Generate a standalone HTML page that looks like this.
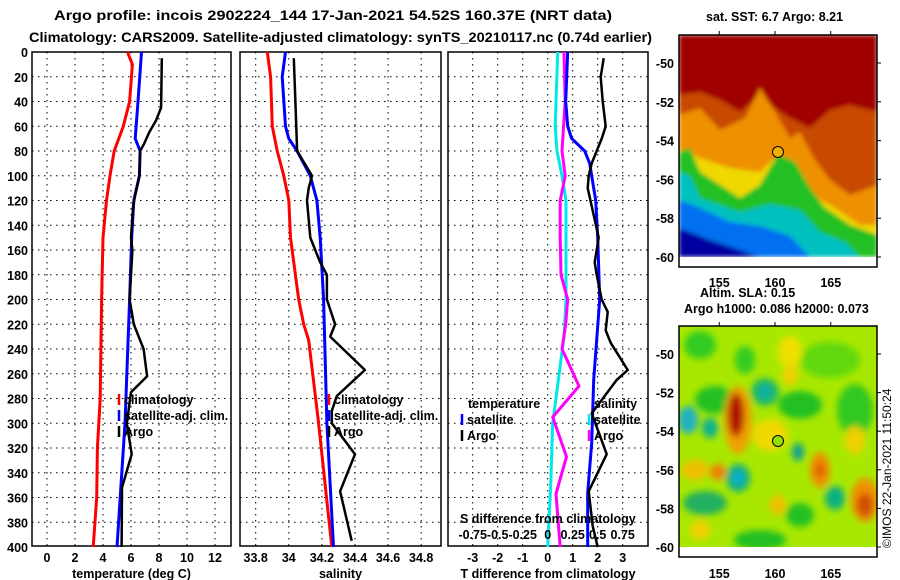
<!DOCTYPE html>
<html><head><meta charset="utf-8"><style>
html,body{margin:0;padding:0;background:#fff;}
svg{display:block;font-family:"Liberation Sans",sans-serif;font-weight:bold;}
</style></head><body>
<svg id="fig" width="900" height="580" viewBox="0 0 900 580" xmlns="http://www.w3.org/2000/svg">
<text x="54" y="20" font-size="14" textLength="558" lengthAdjust="spacingAndGlyphs">Argo profile: incois 2902224_144 17-Jan-2021 54.52S 160.37E (NRT data)</text>
<text x="29" y="42" font-size="14" textLength="623" lengthAdjust="spacingAndGlyphs">Climatology: CARS2009. Satellite-adjusted climatology: synTS_20210117.nc (0.74d earlier)</text>

<g>
<defs><clipPath id="c1"><rect x="679" y="35" width="198" height="222"/></clipPath>
<clipPath id="c2"><rect x="679" y="326" width="198" height="221"/></clipPath>
<filter id="bl"><feGaussianBlur stdDeviation="3.5"/></filter>
<filter id="bl2"><feGaussianBlur stdDeviation="2"/></filter></defs>
<g clip-path="url(#c1)" filter="url(#bl2)">
<rect x="679" y="35" width="198" height="222" fill="#a00000"/>
<polygon fill="#c84a00" points="679,95 700,92 720,100 740,112 760,95 775,108 790,118 810,128 830,110 850,105 877,112 877,257 679,257"/>
<polygon fill="#ee9000" points="679,115 700,108 720,130 745,118 760,88 775,112 790,138 800,132 815,160 830,180 850,195 877,185 877,257 679,257"/>
<polygon fill="#f0d800" points="679,150 700,158 730,168 760,172 775,158 790,168 810,195 830,205 860,225 877,225 877,257 679,257"/>
<polygon fill="#20c020" points="679,152 690,148 700,172 720,185 740,198 760,185 778,154 795,162 810,188 825,208 850,225 877,235 877,257 679,257"/>
<polygon fill="#00c0c0" points="679,172 690,176 700,198 740,212 770,204 800,210 820,232 845,242 860,257 679,257"/>
<polygon fill="#0070f0" points="679,200 700,208 730,222 760,226 790,236 810,257 679,257"/>
<polygon fill="#0000a0" points="679,228 710,240 740,250 760,257 679,257"/>
</g>
<rect x="679" y="35" width="198" height="232" fill="none" stroke="#000" stroke-width="1.5"/>
<circle cx="778" cy="152" r="5.5" fill="#f0b000" stroke="#000"/>
</g>
<text x="706" y="21" font-size="12.5">sat. SST: 6.7 Argo: 8.21</text>

<g>
<g clip-path="url(#c2)">
<rect x="679" y="326" width="198" height="221" fill="#a8e800"/>
<g filter="url(#bl)">
<ellipse cx="700" cy="345" rx="16" ry="14" fill="#30cc20"/>
<ellipse cx="745" cy="360" rx="10" ry="14" fill="#30cc20"/>
<ellipse cx="830" cy="360" rx="30" ry="18" fill="#60d810"/>
<ellipse cx="790" cy="352" rx="12" ry="16" fill="#f0e000"/>
<ellipse cx="790" cy="375" rx="8" ry="10" fill="#f0d000"/>
<ellipse cx="715" cy="400" rx="20" ry="14" fill="#20c020"/>
<ellipse cx="765" cy="392" rx="14" ry="14" fill="#20b860"/>
<ellipse cx="765" cy="392" rx="7" ry="8" fill="#10b0a0"/>
<ellipse cx="688" cy="420" rx="10" ry="14" fill="#20b0c0"/>
<ellipse cx="710" cy="428" rx="8" ry="10" fill="#10b090"/>
<ellipse cx="738" cy="420" rx="14" ry="34" fill="#f0a000"/>
<ellipse cx="736" cy="415" rx="8" ry="22" fill="#b01000"/>
<ellipse cx="770" cy="435" rx="18" ry="16" fill="#f0d800"/>
<ellipse cx="800" cy="405" rx="22" ry="14" fill="#20c020"/>
<ellipse cx="798" cy="452" rx="6" ry="9" fill="#10a090"/>
<ellipse cx="820" cy="470" rx="10" ry="18" fill="#f09000"/>
<ellipse cx="820" cy="470" rx="5" ry="8" fill="#e06000"/>
<ellipse cx="695" cy="470" rx="14" ry="10" fill="#f0c000"/>
<ellipse cx="718" cy="472" rx="8" ry="8" fill="#f08000"/>
<ellipse cx="738" cy="478" rx="12" ry="14" fill="#10b080"/>
<ellipse cx="738" cy="478" rx="6" ry="7" fill="#10b0d0"/>
<ellipse cx="705" cy="503" rx="22" ry="12" fill="#20b060"/>
<ellipse cx="835" cy="498" rx="10" ry="12" fill="#10b080"/>
<ellipse cx="865" cy="500" rx="14" ry="22" fill="#f09000"/>
<ellipse cx="865" cy="505" rx="8" ry="12" fill="#d05000"/>
<ellipse cx="800" cy="515" rx="14" ry="12" fill="#20c020"/>
<ellipse cx="760" cy="540" rx="26" ry="10" fill="#20c020"/>
<ellipse cx="855" cy="410" rx="18" ry="26" fill="#30c820"/>
<ellipse cx="700" cy="530" rx="10" ry="10" fill="#f0d000"/>
<ellipse cx="778" cy="505" rx="8" ry="10" fill="#f0c000"/>
<ellipse cx="855" cy="440" rx="10" ry="14" fill="#f0d000"/>
</g></g>
<rect x="679" y="326" width="198" height="231" fill="none" stroke="#000" stroke-width="1.5"/>
<circle cx="778" cy="441" r="5.5" fill="#90e000" stroke="#000"/>
</g>
<text x="700" y="297" font-size="12.5">Altim. SLA: 0.15</text>
<text x="684" y="313" font-size="12.5">Argo h1000: 0.086 h2000: 0.073</text>
<text transform="translate(891,548) rotate(-90)" font-size="12" font-weight="normal">©IMOS 22-Jan-2021 11:50:24</text>
<g id="axes"></g>
</svg>
<script>
// ---- data ----
const tClimDepth=[0,10,40,60,80,100,120,150,200,280,320,360,400];
const tClimVal=[5.75,6.1,5.9,5.45,4.8,4.5,4.25,4.0,3.9,3.8,3.6,3.55,3.3];
const tSatDepth=[0,40,70,80,100,120,150,200,300,400];
const tSatVal=[6.75,6.5,6.3,6.65,6.6,6.2,6.05,5.9,5.57,5.0];
const tArgoDepth=[5,45,55,65,75,80,100,115,125,150,160,180,200,220,240,262,275,300,325,352,400];
const tArgoVal=[8.2,8.15,7.8,7.3,6.9,6.65,6.6,6.3,6.15,6.0,6.1,6.0,5.9,6.2,6.9,7.15,6.0,5.7,6.05,5.36,5.33];
const sClimDepth=[0,20,60,80,100,120,150,180,200,220,233,300,400];
const sClimVal=[33.87,33.89,33.9,33.93,33.97,34.0,34.01,34.04,34.06,34.09,34.12,34.18,34.26];
const sSatDepth=[0,20,60,70,80,100,120,150,200,300,400];
const sSatVal=[33.98,33.96,33.98,34.0,34.05,34.13,34.17,34.19,34.21,34.23,34.27];
const sArgoDepth=[5,40,80,100,110,120,150,170,180,200,220,230,257,278,290,300,325,355,395];
const sArgoVal=[34.03,34.04,34.05,34.14,34.12,34.11,34.13,34.19,34.23,34.23,34.28,34.25,34.46,34.29,34.26,34.26,34.4,34.31,34.38];
const dTSatDepth=[0,60,80,100,120,200,230,300,350,400];
const dTSatVal=[0.4,0.3,0.37,0.57,0.73,0.73,0.65,0.2,0.12,0.0];
const dTArgoDepth=[0,40,80,100,120,150,180,200,220,240,270,295,327,357,400];
const dTArgoVal=[0.65,0.7,0.57,0.7,0.5,0.5,0.53,0.8,0.72,0.57,1.25,0.2,0.75,0.33,0.5];
const dSSatDepth=[0,40,60,70,80,90,100,120,150,200,265,316,356,400];
const dSSatVal=[0.2,0.18,0.2,0.24,0.37,0.42,0.44,0.48,0.5,0.52,0.46,0.44,0.4,0.4];
const dSArgoDepth=[5,20,40,60,70,80,90,100,110,150,170,180,200,210,225,235,257,265,292,325,355,383,400];
const dSArgoVal=[0.56,0.53,0.55,0.58,0.54,0.49,0.44,0.41,0.4,0.51,0.47,0.49,0.54,0.6,0.58,0.63,0.8,0.69,0.44,0.59,0.41,0.45,0.5];
const depthTicks=[0,20,40,60,80,100,120,140,160,180,200,220,240,260,280,300,320,340,360,380,400];
const tTicks=[0,2,4,6,8,10,12];
const sTicks=[33.8,34,34.2,34.4,34.6,34.8];
const dTicks=[-3,-2,-1,0,1,2,3];
const dSTickLabels=["-0.75","-0.5","-0.25","0","0.25","0.5","0.75"];
const dSTicks=[-0.75,-0.5,-0.25,0,0.25,0.5,0.75];
const latTicks=[-50,-52,-54,-56,-58,-60];
const lonTicks=[155,160,165];

const NS="http://www.w3.org/2000/svg";
const G=document.getElementById('axes');
function mk(tag,attrs,parent){const e=document.createElementNS(NS,tag);for(const k in attrs)e.setAttribute(k,attrs[k]);(parent||G).appendChild(e);return e;}
const yD=d=>52+d*1.2375;
const xT=v=>47+v*14.0;
const xS=v=>255.7+(v-33.8)*165.5;
const xDT=v=>547.7+v*25;
const xDS=v=>547.7+v*100;

function panel(name,x0,x1,ticks,xf,fmt,showDepth,title){
  const g=mk('g',{});
  
  
  depthTicks.forEach(d=>{
    if(d>0&&d<400){const l=mk('line',{x1:x0,x2:x1,y1:yD(d),y2:yD(d),stroke:'#000','stroke-width':1,'stroke-dasharray':'1.5,4.5'},g);
    }
    if(showDepth){const t=mk('text',{x:28,y:yD(d)+5,'text-anchor':'end','font-size':12.5},g);t.textContent=d;
    }
  });
  ticks.forEach(v=>{
    const x=xf(v);
    const l=mk('line',{x1:x,x2:x,y1:52,y2:546,stroke:'#000','stroke-width':1,'stroke-dasharray':'1.5,4.5'},g);
    
    const t=mk('text',{x:x,y:562,'text-anchor':'middle','font-size':12.5},g);t.textContent=fmt(v);
    
  });
  const r=mk('rect',{x:x0,y:52,width:x1-x0,height:494,fill:'none',stroke:'#000','stroke-width':1.5},g);
  
  const tt=mk('text',{x:(x0+x1)/2,y:578,'text-anchor':'middle','font-size':12.5},g);tt.textContent=title;
  
  return g;
}
function line(name,depths,vals,xf,color,w,g){
  const pts=depths.map((d,i)=>xf(vals[i]).toFixed(1)+','+yD(d).toFixed(1)).join(' ');
  const p=mk('polyline',{points:pts,fill:'none',stroke:color,'stroke-width':w,'stroke-linejoin':'round'},g);
  
  
}
function legend(items,x,g){
  items.forEach((it,i)=>{
    const y=404+i*16;
    const m=mk('line',{x1:x,x2:x,y1:y-10,y2:y+1,stroke:it[1],'stroke-width':2.5},g);
    
    const t=mk('text',{x:x+5,y:y,'font-size':12.5},g);t.textContent=it[0];
    
  });
}
const g1=panel('temperature-panel',32,231,tTicks,xT,v=>v,true,'temperature (deg C)');
line('temp-climatology-line',tClimDepth,tClimVal,xT,'#ff0000',3,g1);
line('temp-satellite-line',tSatDepth,tSatVal,xT,'#0000ff',3,g1);
line('temp-argo-line',tArgoDepth,tArgoVal,xT,'#000',2.5,g1);
legend([['climatology','#ff0000'],['satellite-adj. clim.','#0000ff'],['Argo','#000']],119,g1);
const g2=panel('salinity-panel',240,441,sTicks,xS,v=>v,false,'salinity');
line('sal-climatology-line',sClimDepth,sClimVal,xS,'#ff0000',3,g2);
line('sal-satellite-line',sSatDepth,sSatVal,xS,'#0000ff',3,g2);
line('sal-argo-line',sArgoDepth,sArgoVal,xS,'#000',2.5,g2);
legend([['climatology','#ff0000'],['satellite-adj. clim.','#0000ff'],['Argo','#000']],329,g2);
const g3=panel('difference-panel',448,648,dTicks,xDT,v=>v,false,'T difference from climatology');
line('t-diff-satellite-line',dTSatDepth,dTSatVal,xDT,'#00e8e8',3,g3);
line('t-diff-argo-line',dTArgoDepth,dTArgoVal,xDT,'#ff00ff',3,g3);
line('s-diff-satellite-line',dSSatDepth,dSSatVal,xDS,'#0000ff',3,g3);
line('s-diff-argo-line',dSArgoDepth,dSArgoVal,xDS,'#000',2.5,g3);
(function(){
  const t=mk('text',{x:468,y:408,'font-size':12.5},g3);t.textContent='temperature';
  
  const s=mk('text',{x:594,y:408,'font-size':12.5},g3);s.textContent='salinity';
  
  [['satellite','#0000ff',462],['Argo','#000',462],['satellite','#00e8e8',589],['Argo','#ff00ff',589]].forEach((it,i)=>{
    const y=424+(i%2)*16;
    const m=mk('line',{x1:it[2],x2:it[2],y1:y-10,y2:y+1,stroke:it[1],'stroke-width':2.5},g3);
    
    const tx=mk('text',{x:it[2]+5,y:y,'font-size':12.5},g3);tx.textContent=it[0];
    
  });
  const st=mk('text',{x:460,y:523,'font-size':12.5},g3);st.textContent='S difference from climatology';
  
  dSTicks.forEach((v,i)=>{
    const tx=mk('text',{x:xDS(v),y:539,'text-anchor':'middle','font-size':12.5},g3);tx.textContent=dSTickLabels[i];
    
  });
})();
function mapAxes(name,top,y50,y60,boxBottom,lonY){
  const g=mk('g',{});
  
  
  const py=(y60-y50)/10;
  latTicks.forEach(l=>{
    const y=y50+(-50-l)*py;
    mk('line',{x1:877,x2:881,y1:y,y2:y,stroke:'#000'},g);
    const t=mk('text',{x:674,y:y+5,'text-anchor':'end','font-size':12.5},g);t.textContent=l;
    
  });
  lonTicks.forEach(l=>{
    const x=775+(l-160)*11.15;
    mk('line',{x1:x,x2:x,y1:top-4,y2:top,stroke:'#000'},g);
    const t=mk('text',{x:x,y:lonY,'text-anchor':'middle','font-size':12.5},g);t.textContent=l;
    
  });
}
mapAxes('sst-map-axes',35,63,257,267,287);
mapAxes('sla-map-axes',326,354,547,557,578);
</script>
</body></html>
